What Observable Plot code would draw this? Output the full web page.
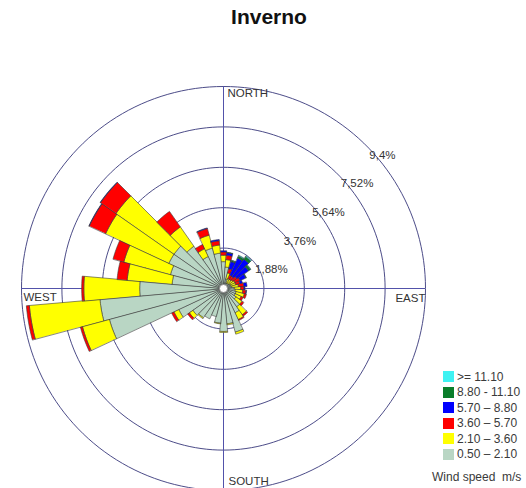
<!DOCTYPE html>
<html>
<head>
<meta charset="utf-8">
<script src="https://cdn.jsdelivr.net/npm/d3@7"></script>
<script src="https://cdn.jsdelivr.net/npm/@observablehq/plot@0.6"></script>
<style>
  body { margin: 0; background: #fff; font-family: "Liberation Sans", Arial, sans-serif; }
  #wrap { position: relative; width: 526px; height: 488px; overflow: hidden; }
  #chart { position: absolute; left: 0; top: 0; }
  #title { position: absolute; left: 6px; width: 526px; top: 5px; line-height: 24px;
           text-align: center; font-weight: bold; font-size: 21px; color: #111; }
  #legend { position: absolute; left: 443px; top: 369px; font-size: 12px; color: #3a3a3a; }
  #legend .row { display: flex; align-items: center; height: 15.5px; white-space: nowrap; }
  #legend .sw { width: 11px; height: 11px; margin-right: 3px; flex: none; }
  #legend .unit { margin-top: 8px; margin-left: -11px; line-height: 15.5px; white-space: pre; }
</style>
</head>
<body>
<div id="wrap">
  <div id="chart"></div>
  <div id="title">Inverno</div>
  <div id="legend"></div>
</div>
<script>
// Wind directions (degrees clockwise from north), one 10° sector each
const directions = [0, 10, 20, 30, 40, 50, 60, 70, 80, 90, 100, 110,
                    120, 130, 140, 150, 160, 170, 180, 190, 200, 210, 220, 230,
                    240, 250, 260, 270, 280, 290, 300, 310, 320, 330, 340, 350];

// Frequency (%) per direction for each wind speed class, inner to outer
const speed050_210 = [1.25, 1.00, 0.45, 0.28, 0.28, 0.30, 0.35, 0.35, 0.40, 0.50, 0.55, 0.60,
                      0.60, 0.70, 1.05, 1.25, 2.10, 1.65, 2.00, 1.62, 1.35, 1.55, 1.65, 1.75,
                      2.30, 5.50, 5.77, 3.90, 2.40, 2.55, 2.80, 2.80, 2.40, 1.65, 1.95, 1.65];
const speed210_360 = [0.30, 0.35, 0.30, 0.22, 0.22, 0.25, 0.25, 0.25, 0.30, 0.30, 0.35, 0.40,
                      0.30, 0.35, 0.45, 0.35, 0.10, 0.05, 0.05, 0.03, 0.00, 0.00, 0.05, 0.20,
                      0.25, 1.30, 3.30, 2.60, 2.10, 2.25, 3.25, 3.30, 1.10, 0.40, 0.62, 0.38];
const speed360_570 = [0.15, 0.20, 0.20, 0.18, 0.18, 0.22, 0.25, 0.20, 0.25, 0.15, 0.15, 0.10,
                      0.10, 0.10, 0.08, 0.05, 0.00, 0.00, 0.00, 0.00, 0.00, 0.00, 0.00, 0.10,
                      0.12, 0.10, 0.14, 0.10, 0.47, 0.52, 0.84, 0.88, 0.88, 0.22, 0.32, 0.20];
const speed570_880 = [0.06, 0.12, 0.35, 0.88, 0.98, 0.66, 0.30, 0.12, 0.15, 0.05, 0.03, 0.00,
                      0.00, 0.00, 0.00, 0.00, 0.00, 0.00, 0.00, 0.00, 0.00, 0.00, 0.00, 0.00,
                      0.00, 0.00, 0.00, 0.00, 0.00, 0.00, 0.02, 0.02, 0.00, 0.00, 0.03, 0.06];
const speed880_1110 = [0.00, 0.02, 0.05, 0.10, 0.14, 0.10, 0.03, 0.00, 0.00, 0.00, 0.00, 0.00,
                       0.00, 0.00, 0.00, 0.00, 0.00, 0.00, 0.00, 0.00, 0.00, 0.00, 0.00, 0.00,
                       0.00, 0.00, 0.00, 0.00, 0.00, 0.00, 0.00, 0.00, 0.00, 0.00, 0.00, 0.00];
const speed1110 = [0.00, 0.00, 0.02, 0.04, 0.05, 0.03, 0.00, 0.00, 0.00, 0.00, 0.00, 0.00,
                   0.00, 0.00, 0.00, 0.00, 0.00, 0.00, 0.00, 0.00, 0.00, 0.00, 0.00, 0.00,
                   0.00, 0.00, 0.00, 0.00, 0.00, 0.00, 0.00, 0.00, 0.00, 0.00, 0.00, 0.00];

// Speed classes (m/s), inner to outer, with their colours
const speedClasses = ["0.50 \u2013 2.10", "2.10 \u2013 3.60", "3.60 \u2013 5.70",
                      "5.70 \u2013 8.80", "8.80 - 11.10", ">= 11.10"];
const classColors = ["#b9d6c4", "#ffff00", "#ff0000", "#0000ff", "#0a7d2a", "#3ff2f2"];
const classSeries = [speed050_210, speed210_360, speed360_570, speed570_880, speed880_1110, speed1110];

// Frequency rings and their labels
const ringLevels = [1.88, 3.76, 5.64, 7.52, 9.4];
const ringLabels = ["1,88%", "3,76%", "5,64%", "7,52%", "9,4%"];

// Compass labels
const compassNames = ["NORTH", "EAST", "SOUTH", "WEST"];

const R = ringLevels[ringLevels.length - 1];
const rad = (deg) => deg * Math.PI / 180;
const polar = (r, deg) => ({x: r * Math.sin(rad(deg)), y: r * Math.cos(rad(deg))});

// Ring outlines as closed polylines in data units
const ringPts = [];
ringLevels.forEach((lv, k) => {
  for (let a = 0; a <= 360; a += 2) ringPts.push({ring: k, ...polar(lv, a)});
});

// Stacked sector wedges: one closed polygon per (direction, speed class)
const wedgePts = [];
const half = 5;
directions.forEach((dir, i) => {
  let r0 = 0;
  classSeries.forEach((series, j) => {
    const v = series[i];
    if (!(v > 0)) return;
    const r1 = r0 + v;
    const id = `${dir}-${j}`;
    for (let a = -half; a <= half; a += 1) wedgePts.push({id, cls: speedClasses[j], ...polar(r1, dir + a)});
    if (r0 > 0) {
      for (let a = half; a >= -half; a -= 1) wedgePts.push({id, cls: speedClasses[j], ...polar(r0, dir + a)});
    } else {
      wedgePts.push({id, cls: speedClasses[j], x: 0, y: 0});
    }
    r0 = r1;
  });
});

const compassPos = [
  {name: compassNames[0], x: 0, y: R, anchor: "start", dx: 4, dy: 7},
  {name: compassNames[1], x: R, y: 0, anchor: "end", dx: 0, dy: 10},
  {name: compassNames[2], x: 0, y: -R, anchor: "start", dx: 5, dy: -9},
  {name: compassNames[3], x: -R, y: 0, anchor: "start", dx: 2, dy: 9}
];

const font = "Liberation Sans, Arial, sans-serif";

const plot = Plot.plot({
  width: 526,
  height: 488,
  margin: 0,
  style: {background: "transparent", fontFamily: font},
  x: {domain: [-R, R], range: [21, 425], axis: null},
  y: {domain: [-R, R], range: [490, 86], axis: null},
  color: {domain: speedClasses, range: classColors},
  marks: [
    Plot.line(ringPts, {x: "x", y: "y", z: "ring", stroke: "#38387a", strokeWidth: 0.9}),
    Plot.ruleX([0], {y1: -R, y2: R, stroke: "#5252aa", strokeWidth: 1}),
    Plot.ruleY([0], {x1: -R, x2: R, stroke: "#5252aa", strokeWidth: 1}),
    Plot.line(wedgePts, {x: "x", y: "y", z: "id", fill: "cls", stroke: "#3a3a3a",
                         strokeWidth: 0.6, curve: "linear-closed"}),
    Plot.dot([0], {x: 0, y: 0, r: 4, fill: "white", stroke: "#888", strokeWidth: 0.8}),
    Plot.text(ringLevels, {x: d => d * Math.SQRT1_2, y: d => d * Math.SQRT1_2,
                           text: (d, i) => ringLabels[i], textAnchor: "start",
                           dx: 3, dy: 9.5, fontSize: 11.5, fill: "#333"}),
    ...compassPos.map(c => Plot.text([c], {x: "x", y: "y", text: "name", textAnchor: c.anchor,
                                           dx: c.dx, dy: c.dy, fontSize: 11.5, fill: "#333"}))
  ]
});
document.getElementById("chart").appendChild(plot);

// Legend: outermost class on top
const color = plot.scale("color");
const legend = document.getElementById("legend");
speedClasses.slice().reverse().forEach(label => {
  const row = document.createElement("div");
  row.className = "row";
  const sw = document.createElement("span");
  sw.className = "sw";
  sw.style.background = color.range[color.domain.indexOf(label)];
  const tx = document.createElement("span");
  tx.textContent = label;
  row.appendChild(sw);
  row.appendChild(tx);
  legend.appendChild(row);
});
const unit = document.createElement("div");
unit.className = "unit";
unit.textContent = "Wind speed  m/s";
legend.appendChild(unit);
</script>
</body>
</html>
